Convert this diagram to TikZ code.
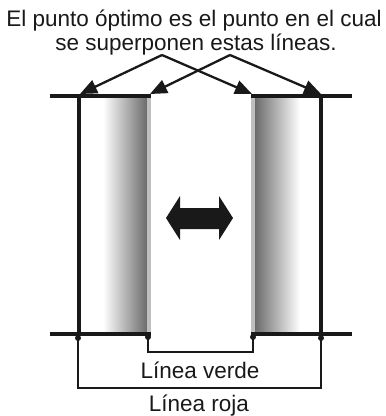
\documentclass[tikz,border=0pt]{standalone}
\usepackage{fontspec}
\setmainfont{Liberation Sans}
\usetikzlibrary{arrows.meta, positioning, calc}
\colorlet{darkside}{black!58}

\begin{document}
\begin{tikzpicture}[
    x=1pt, y=-1pt,
    font=\fontsize{22.5}{24}\selectfont,
    edge/.style={line width=4.5pt, draw=black!90},
    wall/.style={line width=3.5pt, draw=black!90},
    pointer/.style={-{Triangle[length=17pt,width=14pt]}, line width=2.3pt, draw=black!90},
    bracket/.style={line width=1.6pt, draw=black!90},
    dot/.style={circle, fill=black!90, inner sep=0pt, minimum size=6pt},
    caption/.style={inner sep=0pt, anchor=base, text=black!90},
    strip/.style={fill=black!25}
]
\useasboundingbox (0,0) rectangle (386,416);

% ---- Title ----
\node[caption] (title1) at (194,26) {El punto óptimo es el punto en el cual};
\node[caption] (title2) at (196,50) {se superponen estas líneas.};
\coordinate (apex_l) at (162,55);
\coordinate (apex_r) at (230,55);

% ---- Shaded panels ----
\shade[left color=white, right color=darkside] (103,96) rectangle (147,334);
\fill[strip] (147,96) rectangle (151,334);
\fill[strip] (251,96) rectangle (255,334);
\shade[left color=darkside, right color=white] (255,96) rectangle (300,334);

% ---- Frame lines ----
\coordinate (top_ll) at (50,96);   \coordinate (top_lr) at (151,96);
\coordinate (top_rl) at (251,96);  \coordinate (top_rr) at (352,96);
\coordinate (bot_ll) at (50,334);  \coordinate (bot_lr) at (151,334);
\coordinate (bot_rl) at (251,334); \coordinate (bot_rr) at (352,334);
\draw[edge] (top_ll) -- (top_lr);
\draw[edge] (top_rl) -- (top_rr);
\draw[edge] (bot_ll) -- (bot_lr);
\draw[edge] (bot_rl) -- (bot_rr);
\draw[wall] (79,96) -- (79,334);
\draw[wall] (321,96) -- (321,334);

% ---- Pointers ----
\coordinate (tip_a) at (80,94);
\coordinate (tip_b) at (150,94);
\coordinate (tip_c) at (252,94);
\coordinate (tip_d) at (321,94);
\draw[pointer] (apex_l) -- (tip_a);
\draw[pointer] (apex_l) -- (tip_c);
\draw[pointer] (apex_r) -- (tip_b);
\draw[pointer] (apex_r) -- (tip_d);

% ---- Double arrow ----
\fill[black!90] (166,218) -- (180,196) -- (180,208) -- (219,208) -- (219,196)
    -- (233,218) -- (219,240) -- (219,229) -- (180,229) -- (180,240) -- cycle;

% ---- Brackets ----
\node[dot] (green_l) at (148,337) {};
\node[dot] (green_r) at (253,337) {};
\node[dot] (red_l) at (78,338) {};
\node[dot] (red_r) at (321,338) {};
\draw[bracket] (green_l.center) -- (148,352) -- (253,352) -- (green_r.center);
\draw[bracket] (red_l.center) -- (78,388) -- (321,388) -- (red_r.center);
\node[caption] (green_label) at (200,378) {Línea verde};
\node[caption] (red_label) at (199,411) {Línea roja};

\end{tikzpicture}
\end{document}
